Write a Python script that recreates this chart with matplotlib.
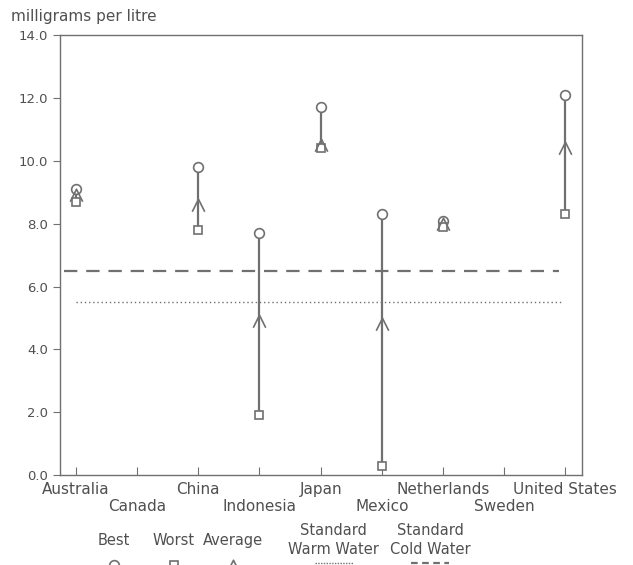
import matplotlib.pyplot as plt
import numpy as np

countries = ["Australia", "Canada", "China", "Indonesia", "Japan",
             "Mexico", "Netherlands", "Sweden", "United States"]
best = [9.1, np.nan, 9.8, 7.7, 11.7, 8.3, 8.1, np.nan, 12.1]
worst = [8.7, np.nan, 7.8, 1.9, 10.4, 0.3, 7.9, np.nan, 8.3]
average = [8.9, np.nan, 8.6, 4.9, 10.5, 4.8, 8.0, np.nan, 10.4]
std_warm = 5.5
std_cold = 6.5

gray = "#707070"
txt = "#505050"
arrow = [(-1, -1), (0, 1), (1, -1)]

fig = plt.figure(figsize=(6.33, 5.65), dpi=100)
ax = fig.add_axes([0.095, 0.159, 0.824, 0.779])

x = np.arange(len(countries))
for i in x:
    if not np.isnan(best[i]):
        ax.plot([i, i], [worst[i], best[i]], color=gray, lw=1.6, zorder=2)
ax.plot(x, best, "o", ms=7, mfc="white", mec=gray, mew=1.2, ls="none", zorder=3)
ax.plot(x, worst, "s", ms=6, mfc="white", mec=gray, mew=1.2, ls="none", zorder=3)
ax.plot(x, average, marker=arrow, ms=9, mfc="none", mec=gray, mew=1.2, ls="none", zorder=4)

ax.plot([-0.2, 7.9], [std_cold, std_cold], color=gray, lw=1.6, dashes=(6, 4))
ax.plot([0.0, 7.95], [std_warm, std_warm], color=gray, lw=1.0, ls=(0, (1, 2)))

ax.set_xlim(-0.26, 8.27)
ax.set_ylim(0, 14)
ax.set_yticks(np.arange(0, 15, 2))
ax.set_yticklabels([f"{v:.1f}" for v in np.arange(0, 15, 2)], fontsize=9.5, color=txt)
ax.tick_params(axis="y", direction="out", length=5, color=gray)
ax.set_xticks(x)
ax.set_xticklabels([])
ax.tick_params(axis="x", direction="in", length=6, color=gray)
for s in ax.spines.values():
    s.set_color(gray)
    s.set_linewidth(1.0)

for i, c in enumerate(countries):
    yoff = -0.033 if i % 2 == 0 else -0.071
    ax.text(i, yoff, c, transform=ax.get_xaxis_transform(), ha="center", va="center",
            fontsize=11, color=txt)

fig.text(0.018, 0.970, "milligrams per litre", fontsize=11, color=txt, va="center")

# legend at the bottom
leg_x = [0.18, 0.275, 0.368, 0.527, 0.68]
leg_labels = ["Best", "Worst", "Average", "Standard\nWarm Water", "Standard\nCold Water"]
for lx, lab in zip(leg_x, leg_labels):
    fig.text(lx, 0.044, lab, fontsize=10.5, color=txt, ha="center", va="center",
             linespacing=1.3)
lax = fig.add_axes([0, 0, 1, 0.02])
lax.set_xlim(0, 1)
lax.set_ylim(0, 1)
lax.axis("off")
lax.plot(leg_x[0], 0.0, "o", ms=7, mfc="white", mec=gray, mew=1.2, clip_on=True)
lax.plot(leg_x[1], 0.0, "s", ms=6, mfc="white", mec=gray, mew=1.2, clip_on=True)
lax.plot(leg_x[2], -0.1, marker=arrow, ms=9, mfc="none", mec=gray, mew=1.2, clip_on=True)
lax.plot([leg_x[3] - 0.03, leg_x[3] + 0.03], [0.2, 0.2], color=gray, lw=1.0, ls=(0, (1, 1)))
lax.plot([leg_x[4] - 0.03, leg_x[4] + 0.03], [0.2, 0.2], color=gray, lw=1.6, dashes=(3, 2))

fig.savefig("out.png", dpi=100)
